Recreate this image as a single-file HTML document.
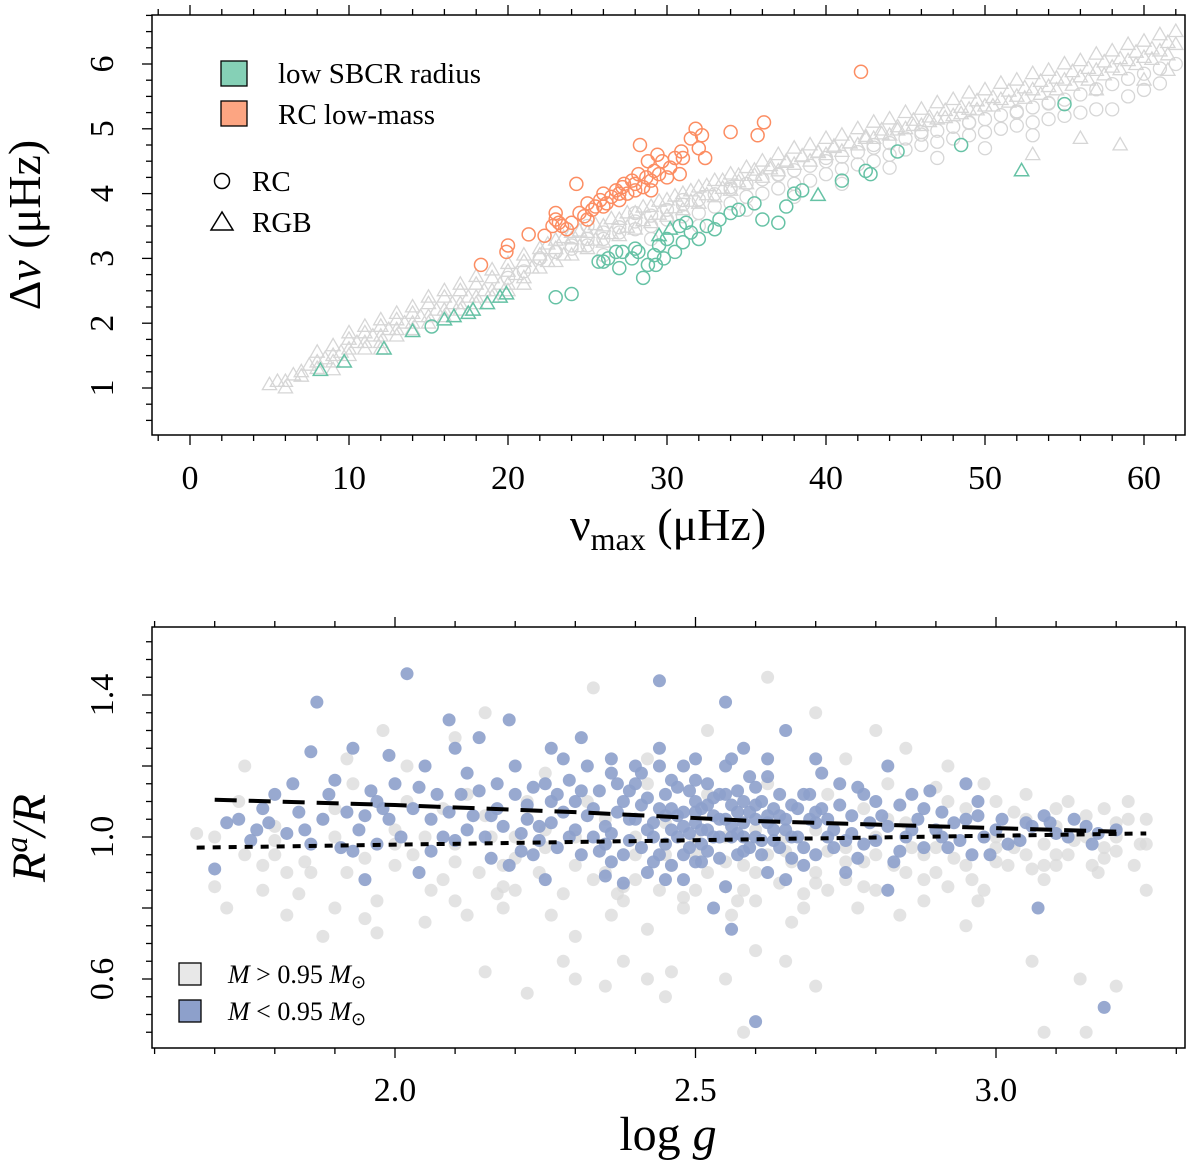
<!DOCTYPE html>
<html><head><meta charset="utf-8"><style>
html,body{margin:0;padding:0;background:#fff}
svg{display:block;font-family:"Liberation Serif",serif}
</style></head><body>
<svg id="fig" width="1200" height="1161" viewBox="0 0 1200 1161" xmlns="http://www.w3.org/2000/svg">
<g id="top"></g>
<g id="bot"></g>
</svg>
<script>
// ---------- TOP PANEL DATA ----------
const topGreyRGB=[[5,1.05],[5.5,1.1],[6,1.1],[6.5,1.2],[7,1.25],[7.5,1.35],[8,1.4],[8.5,1.45],[9,1.5],[9.5,1.55],[10,1.6],[10,1.75],[10.5,1.7],[11,1.7],[11,1.85],[11.5,1.8],[12,1.8],[12,1.95],[12.5,1.9],[13,1.9],[13,2.05],[13.5,2.0],[14,2.0],[14,2.15],[14.5,2.1],[15,2.1],[15,2.3],[15.5,2.2],[16,2.2],[16,2.4],[16.5,2.3],[17,2.3],[17,2.5],[17.5,2.4],[18,2.4],[18,2.6],[18.5,2.5],[19,2.5],[19,2.7],[19.5,2.6],[20,2.6],[20,2.8],[20.5,2.75],[21,2.7],[21,2.95],[21.5,2.85],[22,2.85],[22,3.05],[22.5,2.95],[23,2.95],[23,3.15],[23.5,3.05],[24,3.05],[24,3.3],[24.5,3.18],[25,3.15],[25,3.4],[25.5,3.28],[26,3.25],[26,3.5],[26.5,3.38],[27,3.35],[27,3.6],[27.5,3.48],[28,3.45],[28,3.7],[28.5,3.58],[29,3.55],[29,3.8],[29.5,3.68],[30,3.65],[30,3.9],[30.5,3.78],[31,3.75],[31,4.0],[31.5,3.88],[32,3.85],[32,4.1],[32.5,3.98],[33,3.95],[33,4.2],[33.5,4.08],[34,4.05],[34,4.3],[34.5,4.18],[35,4.15],[35,4.4],[35.5,4.28],[36,4.25],[36,4.5],[36.5,4.38],[37,4.35],[37,4.6],[37.5,4.48],[38,4.45],[38,4.7],[38.5,4.58],[39,4.5],[39,4.75],[39.5,4.63],[40,4.6],[40,4.85],[40.5,4.73],[41,4.65],[41,4.9],[41.5,4.78],[42,4.75],[42,5.0],[42.5,4.88],[43,4.85],[43,5.1],[43.5,4.98],[44,4.9],[44,5.15],[44.5,5.03],[45,5.0],[45,5.25],[45.5,5.13],[46,5.05],[46,5.3],[46.5,5.18],[47,5.15],[47,5.4],[47.5,5.28],[48,5.2],[48,5.45],[48.5,5.33],[49,5.3],[49,5.55],[49.5,5.43],[50,5.35],[50,5.6],[50.5,5.48],[51,5.45],[51,5.7],[51.5,5.58],[52,5.5],[52,5.75],[52.5,5.63],[53,5.6],[53,5.85],[53.5,5.73],[54,5.65],[54,5.9],[54.5,5.78],[55,5.75],[55,6.0],[55.5,5.88],[56,5.8],[56,6.05],[56.5,5.93],[57,5.9],[57,6.15],[57.5,6.03],[58,5.95],[58,6.2],[58.5,6.08],[59,6.05],[59,6.3],[59.5,6.18],[60,6.1],[60,6.35],[60.5,6.23],[61,6.2],[61,6.45],[61.5,6.33],[62,6.3],[62,6.5],[6,1.0],[9,1.28],[12,1.6],[53,4.6],[56,4.85],[57,5.6],[60,5.75],[61.5,5.9],[58.5,4.75],
[7,1.18],[8,1.3],[9,1.4],[10,1.5],[11,1.6],[12,1.7],[13,1.8],[14,1.9],[15,2.0],[16,2.1],[17,2.2],[18,2.3],[19,2.4],[20,2.5],[21,2.6],
[8,1.55],[9,1.65],[10,1.85],[11,1.95],[12,2.05],[13,2.15],[14,2.25],[15,2.4],[16,2.5],[17,2.6],[18,2.72],[19,2.82],[20,2.92],[21,3.05],[22,3.15],[23,3.28],[24,3.4]];
const topGreyMidA=[[22,3.0],[23,3.1],[24,3.2],[25,3.3],[26,3.4],[27,3.48],[28,3.57],[29,3.66],[30,3.75],[31,3.83],[32,3.91],[33,3.99],[34,4.07],[35,4.15],[36,4.22],[37,4.29],[38,4.36],[39,4.43],[40,4.5],[41,4.57],[42,4.64],[43,4.71],[44,4.78],[45,4.85],[46,4.91],[47,4.97],[48,5.03],[49,5.09],[50,5.15],[51,5.21],[52,5.27],[53,5.33],[54,5.39],[55,5.45],[56,5.53],[57,5.61],[58,5.69],[59,5.77],[60,5.85],[61,5.93],[62,6.0]];
const topGreyMidB=[[22.5,3.22],[23.5,3.32],[24.5,3.42],[25.5,3.52],[26.5,3.61],[27.5,3.7],[28.5,3.79],[29.5,3.88],[30.5,3.96],[31.5,4.04],[32.5,4.12],[33.5,4.2],[34.5,4.28],[35.5,4.36],[36.5,4.43],[37.5,4.5],[38.5,4.57],[39.5,4.64],[40.5,4.71],[41.5,4.78],[42.5,4.85],[43.5,4.92],[44.5,4.98],[45.5,5.05],[46.5,5.11],[47.5,5.17],[48.5,5.23],[49.5,5.29],[50.5,5.35],[51.5,5.41],[52.5,5.47],[53.5,5.53],[54.5,5.6],[55.5,5.67],[56.5,5.75],[57.5,5.83],[58.5,5.91],[59.5,5.99],[60.5,6.07],[61.5,6.14]];
const topGreyRC=[[20,2.7],[21,2.8],[22,3.0],[23,3.1],[24,3.15],[25,3.2],[26,3.3],[27,3.4],[28,3.45],[29,3.5],[30,3.6],[31,3.65],[32,3.7],[33,3.8],[34,3.85],[35,3.95],[36,4.0],[37,4.08],[38,4.15],[39,4.2],[40,4.3],[41,4.38],[42,4.45],[43,4.5],[44,4.6],[45,4.68],[46,4.75],[47,4.8],[48,4.85],[49,4.9],[50,4.95],[51,5.0],[52,5.05],[53,5.1],[54,5.15],[55,5.2],[56,5.25],[57,5.3],[58,5.3],[59,5.5],[60,5.6],[61,5.7],[25,3.5],[28,3.7],[31,3.9],[34,4.1],[37,4.3],[40,4.55],[43,4.75],[46,4.95],[49,5.1],[52,5.25],[54,5.4],[26,3.05],[29,3.3],[32,3.5],[35,3.75],[38,3.95],[41,4.15],[44,4.4],[47,4.55],[50,4.7],[53,4.9]];
const orangeRC=[[18.3,2.9],[19.9,3.1],[20,3.2],[21.3,3.37],[22.3,3.35],[22.8,3.5],[23,3.6],[23,3.7],[23.4,3.5],[23.7,3.45],[24,3.55],[24.3,4.15],[24.5,3.7],[25,3.6],[25.3,3.75],[25.5,3.8],[25.8,3.9],[26,4.0],[26.2,3.85],[26.5,3.95],[27,3.9],[27.2,4.1],[27.5,4.0],[27.8,4.2],[28,4.05],[28.2,4.3],[28.5,4.1],[28.7,4.25],[28.3,4.75],[28.8,4.5],[29,4.2],[29.2,4.35],[29.5,4.3],[29.7,4.5],[30,4.25],[30.2,4.4],[30.5,4.55],[30.8,4.3],[31,4.55],[31.5,4.85],[31.8,5.0],[32,4.7],[32.2,4.9],[32.4,4.55],[30.9,4.65],[34,4.95],[35.7,4.9],[36.1,5.1],[42.2,5.88],[26.8,4.05],[27.3,4.15],[29.4,4.6],[25,3.85],[26,3.8],[27,4.0],[28,4.15],[29,4.05],[24.8,3.65],[23.2,3.55]];
const greenRC=[[15.2,1.95],[23,2.4],[24,2.45],[25.7,2.95],[26,2.95],[26.3,3.0],[27,2.85],[27.2,3.1],[27.8,3.0],[28.2,3.1],[28.5,2.7],[28.8,2.9],[29.2,3.05],[29.3,2.9],[29.5,3.2],[30,3.3],[30.5,3.1],[30.8,3.5],[31,3.25],[31.2,3.55],[31.5,3.4],[32,3.3],[32.5,3.5],[33,3.45],[33.3,3.6],[34,3.7],[34.5,3.75],[35.5,3.85],[36,3.6],[37,3.55],[37.5,3.8],[38,4.0],[38.5,4.05],[41,4.2],[42.5,4.35],[42.8,4.3],[44.5,4.65],[48.5,4.75],[55,5.38],[26.8,3.1],[28,3.15],[29.8,3.0]];
const greenRGB=[[8.2,1.27],[9.7,1.4],[12.2,1.6],[14,1.87],[16,2.05],[16.6,2.1],[17.5,2.15],[17.8,2.2],[18.7,2.3],[19.5,2.4],[19.9,2.45],[29.5,3.35],[30.2,3.45],[39.5,3.97],[52.3,4.35]];
const topXTicks=[0,10,20,30,40,50,60];
const topYTicks=[1,2,3,4,5,6];

// ---------- BOTTOM PANEL DATA ----------
const botGrey=[[1.67,1.01],[1.7,0.86],[1.72,0.8],[1.74,1.1],[1.78,0.92],[1.8,0.95],[1.82,0.78],[1.84,0.84],[1.86,0.9],[1.88,1.05],[1.9,0.8],[1.92,1.22],[1.95,0.77],[1.97,0.73],[1.98,1.3],[2.0,0.92],[2.03,0.95],[2.06,0.85],[2.08,1.08],[2.1,0.82],[2.12,0.78],[2.14,0.9],[2.16,1.0],[2.18,0.92],[2.2,0.85],[2.22,1.05],[2.24,0.9],[2.26,0.78],[2.28,0.65],[2.3,0.72],[2.33,0.88],[2.35,0.98],[2.38,0.82],[2.4,0.95],[2.42,0.74],[2.44,0.85],[2.46,0.92],[2.48,0.8],[2.5,0.95],[2.52,0.9],[2.55,0.86],[2.58,0.92],[2.6,0.82],[2.62,0.95],[2.64,0.87],[2.66,0.93],[2.68,0.8],[2.7,0.9],[2.72,0.96],[2.75,0.88],[2.78,0.93],[2.8,0.85],[2.83,0.92],[2.86,0.97],[2.9,0.9],[2.93,0.94],[2.96,0.88],[3.0,0.93],[3.03,0.97],[3.06,0.91],[3.1,0.95],[3.13,0.99],[3.16,0.92],[3.2,0.96],[3.22,1.05],[3.24,0.98],[3.25,0.85],[3.18,1.08],[3.12,1.1],[3.05,1.12],[2.98,1.15],[2.92,1.2],[2.85,1.25],[2.8,1.3],[2.75,1.22],[2.7,1.35],[2.62,1.45],[2.52,1.3],[2.42,1.22],[2.33,1.42],[2.25,1.18],[2.15,1.35],[2.1,1.28],[2.02,1.2],[1.93,1.15],[1.75,1.2],[2.38,0.65],[2.42,0.6],[2.46,0.62],[2.22,0.56],[2.3,0.6],[2.35,0.58],[2.45,0.55],[2.55,0.6],[2.58,0.45],[2.6,0.68],[2.65,0.65],[3.15,0.45],[3.2,0.58],[3.08,0.45],[3.06,0.65],[3.14,0.6],[2.7,0.58],[2.95,0.75],[2.15,0.62],[2.05,0.76],[1.88,0.72],[2.3,1.0],[2.35,1.05],[2.4,1.0],[2.45,1.04],[2.5,0.99],[2.55,1.0],[2.6,1.02],[2.65,1.0],[2.7,1.02],[2.8,1.0],[2.9,1.02],[3.0,1.0],[3.1,1.03],[3.2,1.0],[2.2,1.0],[2.1,0.98],[2.0,1.02],[1.9,1.0],[1.8,0.99],[2.25,0.97],[2.75,0.97],[2.85,1.04],[2.95,1.08],[3.05,1.05],[3.15,1.06],[3.25,1.05],[3.23,0.92],[3.08,0.88],[2.88,0.82],[2.72,0.85],[2.78,1.08],[2.88,0.95],[2.98,1.0],[3.08,0.98],[3.18,0.97],[2.82,1.15],[3.0,1.1],[2.92,0.86],[2.84,0.78],[2.66,0.76],[2.56,0.78],[2.36,0.78],[2.18,0.8],
[1.7,1.0],[1.75,0.95],[1.8,1.03],[1.85,0.93],[1.9,1.08],[1.95,0.94],[2.0,0.98],[2.05,1.0],[2.1,0.93],[2.15,1.06],[2.2,0.94],[2.25,1.02],[2.3,0.92],[2.35,0.9],[2.4,0.88],[2.45,0.95],[2.5,0.85],[2.55,0.93],[2.6,0.9],[2.65,0.96],[2.7,0.87],[2.75,0.93],[2.8,0.95],[2.85,0.9],[2.9,0.97],[2.95,0.92],[3.0,0.97],[3.05,0.95],[3.1,0.92],[3.15,1.0],[3.2,1.04],[3.25,0.98],[3.22,1.1],[3.17,0.9],[3.12,0.95],[3.02,0.92],[2.92,1.1],[2.82,1.05],[2.72,1.12],[2.62,1.15],[2.52,1.12],[2.42,1.15],[2.32,1.1],[2.22,1.1],[2.12,1.12],[2.02,1.1],[1.92,0.9],[1.82,0.9],[1.78,0.85],[2.08,0.88],[2.18,0.86],[2.28,0.84],[2.38,0.86],[2.48,0.83],[2.58,0.85],[2.68,0.84],[2.78,0.86],[2.88,0.88],[2.98,0.85],[3.08,0.92],[3.18,0.94],[2.97,0.82],[2.77,0.8],[2.57,0.82],[2.37,0.84],[2.17,0.84],[1.97,0.82],[2.9,1.14],[3.1,1.08],[3.03,1.07]];
const botBlue=[[1.70,0.91],[1.72,1.04],[1.77,1.02],[1.79,1.04],[1.76,0.99],[1.82,1.01],[1.86,1.24],[1.85,1.02],[1.88,1.05],[1.91,0.97],[1.93,0.96],[1.95,1.06],[1.96,1.13],[1.97,1.1],[1.98,1.08],[2.02,1.46],[2.05,1.2],[2.06,1.05],[2.09,1.33],[2.12,1.18],[2.14,1.28],[1.87,1.38],[1.93,1.25],[1.99,1.23],[2.0,1.15],[2.03,1.08],[2.08,1.0],[2.1,0.99],[2.11,1.12],[2.15,1.0],[2.17,1.08],[2.2,1.12],[2.22,1.05],[2.24,1.03],[2.25,1.15],[2.28,1.22],[2.3,1.1],[2.32,1.06],[2.33,1.0],[2.35,0.98],[2.36,1.18],[2.38,1.1],[2.4,1.05],[2.4,1.15],[2.42,1.02],[2.43,0.93],[2.44,1.2],[2.46,1.08],[2.47,1.0],[2.48,0.95],[2.5,1.1],[2.5,1.04],[2.51,0.98],[2.52,1.15],[2.53,1.06],[2.54,1.0],[2.55,1.2],[2.56,1.03],[2.57,0.95],[2.58,1.1],[2.6,1.05],[2.61,0.99],[2.62,1.17],[2.63,1.08],[2.65,1.02],[2.66,0.94],[2.68,1.12],[2.7,1.04],[2.72,1.0],[2.74,1.15],[2.76,1.06],[2.78,0.98],[2.8,1.1],[2.82,1.03],[2.85,1.0],[2.88,1.08],[2.9,1.02],[2.92,0.97],[2.95,1.05],[2.98,1.0],[3.0,1.02],[3.05,1.04],[3.1,1.01],[3.15,1.03],[3.2,1.02],[2.44,1.44],[2.55,1.38],[2.6,0.48],[3.18,0.52],[2.56,0.74],[2.53,0.8],[3.07,0.8],[2.82,0.85],[2.38,0.87],[2.25,0.88],[2.04,0.9],[1.95,0.88],[2.19,1.33],[2.31,1.28],[2.65,1.3],[2.82,1.2],[2.95,1.15],[2.35,1.03],[2.37,1.07],[2.39,0.99],[2.41,1.09],[2.43,1.04],[2.45,0.98],[2.45,1.12],[2.47,1.06],[2.49,1.01],[2.49,1.13],[2.51,1.08],[2.52,0.96],[2.53,1.11],[2.55,1.05],[2.57,1.01],[2.57,1.13],[2.59,1.07],[2.59,0.97],[2.61,1.1],[2.63,1.02],[2.64,1.06],[2.66,1.09],[2.67,1.0],[2.69,1.05],[2.71,1.08],[2.73,1.02],[2.3,1.02],[2.28,1.07],[2.27,0.97],[2.34,1.13],[2.26,1.1],[2.21,0.96],[2.18,1.03],[2.13,1.06],[2.07,1.12],[2.01,1.0],[1.94,1.02],[1.9,1.16],[1.84,1.07],[1.8,1.12],[2.75,0.99],[2.79,1.04],[2.84,0.96],[2.87,1.05],[2.91,1.07],[2.94,0.99],[2.97,1.06],[3.02,0.98],[3.06,1.03],[3.12,1.0],[3.17,1.01],[3.08,1.06],[2.99,0.95],[2.86,1.12],[2.77,1.14],[2.71,1.18],[2.68,0.92],[2.62,0.9],[2.48,0.88],[2.42,0.9],[2.36,0.93],[2.23,0.95],[2.16,0.94],[2.44,1.25],[2.5,1.22],[2.58,1.25],[2.36,1.22],[2.29,1.16],[2.2,1.2],[2.1,1.25],[2.46,1.16],[2.54,1.12],[2.6,1.14],[2.52,1.02],[2.48,1.07],[2.56,1.09],[2.62,1.04],[2.44,1.08],[2.39,1.13],[2.58,1.0],[2.64,0.97],[2.5,0.93],
[2.21,1.01],[2.22,1.09],[2.23,1.14],[2.24,0.99],[2.26,1.04],[2.27,1.12],[2.29,1.0],[2.31,0.95],[2.31,1.13],[2.33,1.08],[2.34,0.96],[2.36,1.01],[2.37,1.15],[2.38,0.95],[2.39,1.05],[2.41,0.97],[2.41,1.18],[2.42,1.11],[2.43,1.0],[2.44,0.95],[2.45,1.06],[2.46,1.02],[2.46,0.92],[2.47,1.14],[2.48,1.03],[2.49,0.97],[2.5,1.07],[2.5,1.16],[2.51,1.02],[2.51,0.93],[2.52,1.09],[2.53,1.0],[2.54,1.05],[2.54,0.94],[2.55,1.12],[2.56,1.0],[2.57,1.07],[2.58,0.96],[2.58,1.04],[2.59,1.17],[2.6,1.0],[2.6,1.09],[2.61,0.95],[2.62,1.06],[2.63,0.99],[2.64,1.12],[2.65,1.05],[2.66,1.0],[2.67,1.08],[2.68,0.97],[2.69,1.12],[2.7,0.95],[2.7,1.07],[2.72,1.05],[2.73,0.97],[2.74,1.09],[2.76,1.01],[2.77,0.94],[2.78,1.12],[2.8,0.99],[2.81,1.06],[2.83,0.93],[2.84,1.09],[2.86,1.02],[2.88,0.97],[2.89,1.13],[2.91,1.0],[2.93,1.04],[2.96,0.95],[2.97,1.1],[3.01,1.05],[3.04,0.99],[3.09,1.04],[3.13,1.05],[3.16,0.98],[2.12,1.02],[2.14,1.13],[2.16,1.06],[2.19,0.92],[2.09,1.07],[2.06,0.96],[2.04,1.14],[1.99,1.05],[1.97,0.98],[1.92,1.07],[1.89,1.12],[1.86,0.98],[1.83,1.15],[1.78,1.08],[1.74,1.05],[2.45,0.88],[2.55,0.86],[2.65,0.88],[2.35,0.89],[2.75,0.9],[2.4,1.2],[2.48,1.2],[2.56,1.22],[2.62,1.22],[2.32,1.2],[2.26,1.25],[2.17,1.15],[2.7,1.22]];
const dashedFit=[[1.7,1.105],[2.0,1.09],[2.3,1.07],[2.6,1.045],[2.9,1.03],[3.2,1.015]];
const dottedFit=[[1.67,0.97],[3.25,1.01]];
const botXTicks=[2.0,2.5,3.0];
const botYTicks=[0.6,1.0,1.4];

const NS="http://www.w3.org/2000/svg";
function mk(tag,attrs,parent){const e=document.createElementNS(NS,tag);for(const k in attrs)e.setAttribute(k,attrs[k]);parent.appendChild(e);return e;}

// ---------- TOP ----------
const T={l:152,r:1185,t:15,b:435};
const tx=v=>190+v*15.9;
const ty=v=>388-(v-1)*64.8;
const gt=document.getElementById('top');
function tri(x,y,col,parent){const s=7.5;return mk('polygon',{points:`${x},${y-s} ${x-s*0.95},${y+s*0.65} ${x+s*0.95},${y+s*0.65}`,fill:'none',stroke:col,'stroke-width':1.3},parent);}
topGreyRGB.concat(topGreyMidB).forEach(d=>{const e=tri(tx(d[0]),ty(d[1]),'#d6d6d6',gt);

});
topGreyRC.concat(topGreyMidA).forEach(d=>{const e=mk('circle',{cx:tx(d[0]),cy:ty(d[1]),r:6.5,fill:'none',stroke:'#d6d6d6','stroke-width':1.3},gt);

});
orangeRC.forEach(d=>{const e=mk('circle',{cx:tx(d[0]),cy:ty(d[1]),r:6.5,fill:'none',stroke:'#fc8d62','stroke-width':1.5},gt);

});
greenRC.forEach(d=>{const e=mk('circle',{cx:tx(d[0]),cy:ty(d[1]),r:6.5,fill:'none',stroke:'#66c2a5','stroke-width':1.5},gt);

});
greenRGB.forEach(d=>{const e=tri(tx(d[0]),ty(d[1]),'#66c2a5',gt);
e.setAttribute('stroke-width',1.5);

});
let f=mk('rect',{x:T.l,y:T.t,width:T.r-T.l,height:T.b-T.t,fill:'none',stroke:'#000','stroke-width':1.5},gt);


for(let v=-2;v<=62;v+=2){const X=tx(v);if(X<T.l||X>T.r)continue;const L=v%10===0?10:6;
mk('line',{x1:X,x2:X,y1:T.b,y2:T.b+L,stroke:'#000','stroke-width':1.3},gt);
mk('line',{x1:X,x2:X,y1:T.t,y2:T.t-L,stroke:'#000','stroke-width':1.3},gt);}
for(let v=0.5;v<=6.75;v+=0.25){const Y=ty(v);if(Y<T.t||Y>T.b)continue;const L=Math.abs(v-Math.round(v))<1e-6?10:6;
mk('line',{x1:T.l,x2:T.l-L,y1:Y,y2:Y,stroke:'#000','stroke-width':1.3},gt);}
topXTicks.forEach(v=>{const e=mk('text',{x:tx(v),y:489,'text-anchor':'middle','font-size':34},gt);e.textContent=v;

});
topYTicks.forEach(v=>{const e=mk('text',{x:0,y:0,'text-anchor':'middle','font-size':34,transform:`translate(113,${ty(v)}) rotate(-90)`},gt);e.textContent=v;

});
let e=mk('text',{x:0,y:0,'text-anchor':'middle','font-size':46,transform:'translate(40,225) rotate(-90)'},gt);
e.innerHTML='Δ<tspan font-style="italic">ν</tspan> (μHz)';


e=mk('text',{x:668,y:540,'text-anchor':'middle','font-size':46},gt);
e.innerHTML='ν<tspan font-size="32" dy="10">max</tspan><tspan dy="-10"> (μHz)</tspan>';


e=mk('rect',{x:221,y:61,width:26,height:25,fill:'#85d0b6',stroke:'#000','stroke-width':1.3},gt);


e=mk('rect',{x:221,y:101,width:26,height:25,fill:'#fca582',stroke:'#000','stroke-width':1.3},gt);


e=mk('text',{x:278,y:83,'font-size':29},gt);e.textContent='low SBCR radius';


e=mk('text',{x:278,y:124,'font-size':29},gt);e.textContent='RC low-mass';


e=mk('circle',{cx:222,cy:181,r:7.5,fill:'none',stroke:'#000','stroke-width':1.5},gt);


e=mk('polygon',{points:'222,212 211,230 233,230',fill:'none',stroke:'#000','stroke-width':1.5},gt);


e=mk('text',{x:252,y:191,'font-size':29},gt);e.textContent='RC';


e=mk('text',{x:252,y:232,'font-size':29},gt);e.textContent='RGB';



// ---------- BOTTOM ----------
const B={l:152,r:1185,t:627,b:1048};
const bx=v=>395+(v-2.0)*601;
const by=v=>837-(v-1.0)*355;
const gb=document.getElementById('bot');
botGrey.forEach(d=>{const c=mk('circle',{cx:bx(d[0]),cy:by(d[1]),r:6.5,fill:'#d9d9d9','fill-opacity':0.75},gb);

});
botBlue.forEach(d=>{const c=mk('circle',{cx:bx(d[0]),cy:by(d[1]),r:6.5,fill:'#8da0cb','fill-opacity':0.9},gb);

});
e=mk('polyline',{points:dashedFit.map(d=>bx(d[0])+','+by(d[1])).join(' '),fill:'none',stroke:'#000','stroke-width':4,'stroke-dasharray':'22 12'},gb);


e=mk('polyline',{points:dottedFit.map(d=>bx(d[0])+','+by(d[1])).join(' '),fill:'none',stroke:'#000','stroke-width':4,'stroke-dasharray':'8 8'},gb);


e=mk('rect',{x:B.l,y:B.t,width:B.r-B.l,height:B.b-B.t,fill:'none',stroke:'#000','stroke-width':1.5},gb);


for(let i=16;i<=33;i++){const v=i/10;const X=bx(v);if(X<B.l||X>B.r)continue;const L=(i%5===0)?10:6;
mk('line',{x1:X,x2:X,y1:B.b,y2:B.b+L,stroke:'#000','stroke-width':1.3},gb);
mk('line',{x1:X,x2:X,y1:B.t,y2:B.t-L,stroke:'#000','stroke-width':1.3},gb);}
for(let i=8;i<=32;i++){const v=i*0.05;const Y=by(v);if(Y<B.t||Y>B.b)continue;const L=(i%4===0)?10:6;
mk('line',{x1:B.l,x2:B.l-L,y1:Y,y2:Y,stroke:'#000','stroke-width':1.3},gb);}
botXTicks.forEach(v=>{const t=mk('text',{x:bx(v),y:1101,'text-anchor':'middle','font-size':34},gb);t.textContent=v.toFixed(1);

});
botYTicks.forEach(v=>{const t=mk('text',{x:0,y:0,'text-anchor':'middle','font-size':34,transform:`translate(113,${by(v)}) rotate(-90)`},gb);t.textContent=v.toFixed(1);

});
e=mk('text',{x:0,y:0,'text-anchor':'middle','font-size':48,'font-style':'italic',transform:'translate(45,838) rotate(-90)'},gb);
e.innerHTML='R<tspan font-size="32" dy="-18">a</tspan><tspan dy="18">/R</tspan>';


e=mk('text',{x:668,y:1150,'text-anchor':'middle','font-size':48},gb);
e.innerHTML='log <tspan font-style="italic">g</tspan>';


e=mk('rect',{x:179,y:963,width:22,height:22,fill:'#e8e8e8',stroke:'#000','stroke-width':1.3},gb);


e=mk('rect',{x:179,y:1000,width:22,height:22,fill:'#8da0cb',stroke:'#000','stroke-width':1.3},gb);


e=mk('text',{x:228,y:983,'font-size':26},gb);
e.innerHTML='<tspan font-style="italic">M</tspan> &gt; 0.95 <tspan font-style="italic">M</tspan><tspan font-size="18" dy="5">⊙</tspan>';


e=mk('text',{x:228,y:1020,'font-size':26},gb);
e.innerHTML='<tspan font-style="italic">M</tspan> &lt; 0.95 <tspan font-style="italic">M</tspan><tspan font-size="18" dy="5">⊙</tspan>';


</script>
</body></html>
